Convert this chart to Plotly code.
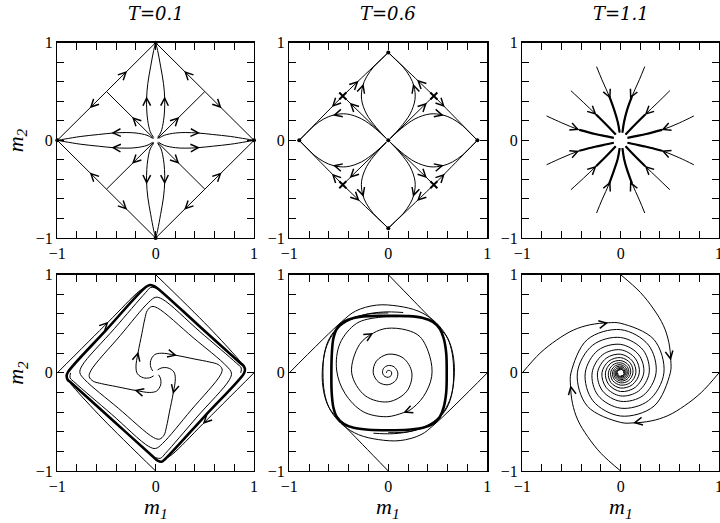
import plotly.graph_objects as go

# ---------------- data ----------------
TICK_VALUES = [-1, -0.8, -0.6, -0.4, -0.2, 0, 0.2, 0.4, 0.6, 0.8, 1]
TICK_LABELS = ["\u22121", "", "", "", "", "0", "", "", "", "", "1"]
COLUMN_TITLES = ["T=0.1", "T=0.6", "T=1.1"]

# Panel 1 (T=0.1, top)
P1_EDGES = [
    [(-0.5, 0.5), (0, 1)], [(-0.5, 0.5), (-1, 0)],
    [(0.5, 0.5), (0, 1)], [(0.5, 0.5), (1, 0)],
    [(-0.5, -0.5), (-1, 0)], [(-0.5, -0.5), (0, -1)],
    [(0.5, -0.5), (1, 0)], [(0.5, -0.5), (0, -1)],
]
P1_DIAGONALS = [
    [(-0.02, 0.02), (-0.5, 0.5)], [(0.02, 0.02), (0.5, 0.5)],
    [(-0.02, -0.02), (-0.5, -0.5)], [(0.02, -0.02), (0.5, -0.5)],
]
P1_LEAVES = [
    [(-0.02, 0.03), (-0.055, 0.088), (-0.08, 0.2), (-0.09, 0.3), (-0.092, 0.43), (-0.08, 0.58), (-0.05, 0.76), (-0.02, 0.92), (0, 1)],
    [(0.02, 0.03), (0.055, 0.088), (0.08, 0.2), (0.09, 0.3), (0.092, 0.43), (0.08, 0.58), (0.05, 0.76), (0.02, 0.92), (0, 1)],
    [(-0.02, -0.03), (-0.055, -0.088), (-0.08, -0.2), (-0.09, -0.3), (-0.092, -0.43), (-0.08, -0.58), (-0.05, -0.76), (-0.02, -0.92), (0, -1)],
    [(0.02, -0.03), (0.055, -0.088), (0.08, -0.2), (0.09, -0.3), (0.092, -0.43), (0.08, -0.58), (0.05, -0.76), (0.02, -0.92), (0, -1)],
    [(-0.03, 0.02), (-0.088, 0.052), (-0.2, 0.075), (-0.3, 0.08), (-0.43, 0.075), (-0.58, 0.06), (-0.76, 0.04), (-0.92, 0.014), (-1, 0)],
    [(-0.03, -0.02), (-0.088, -0.052), (-0.2, -0.075), (-0.3, -0.08), (-0.43, -0.075), (-0.58, -0.06), (-0.76, -0.04), (-0.92, -0.014), (-1, 0)],
    [(0.03, 0.02), (0.088, 0.052), (0.2, 0.075), (0.3, 0.08), (0.43, 0.075), (0.58, 0.06), (0.76, 0.04), (0.92, 0.014), (1, 0)],
    [(0.03, -0.02), (0.088, -0.052), (0.2, -0.075), (0.3, -0.08), (0.43, -0.075), (0.58, -0.06), (0.76, -0.04), (0.92, -0.014), (1, 0)],
]
P1_FIXED_POINTS = [(0, 1), (1, 0), (0, -1), (-1, 0)]
# arrows: (tip x, tip y, tail x, tail y)
P1_ARROWS = [
    (-0.29, 0.71, -0.33, 0.67), (-0.67, 0.33, -0.63, 0.37),
    (0.29, 0.71, 0.33, 0.67), (0.67, 0.33, 0.63, 0.37),
    (-0.67, -0.33, -0.63, -0.37), (-0.29, -0.71, -0.33, -0.67),
    (0.67, -0.33, 0.63, -0.37), (0.29, -0.71, 0.33, -0.67),
    (-0.24, 0.24, -0.2, 0.2), (0.24, 0.24, 0.2, 0.2),
    (-0.24, -0.24, -0.2, -0.2), (0.24, -0.24, 0.2, -0.2),
    (-0.092, 0.45, -0.091, 0.40), (0.092, 0.45, 0.091, 0.40),
    (-0.092, -0.45, -0.091, -0.40), (0.092, -0.45, 0.091, -0.40),
    (-0.45, 0.074, -0.40, 0.077), (-0.45, -0.074, -0.40, -0.077),
    (0.45, 0.074, 0.40, 0.077), (0.45, -0.074, 0.40, -0.077),
]

# Panel 2 (T=0.6, top)
P2_EDGES = [
    [(-0.46, 0.455), (-0.23, 0.678), (0, 0.9)], [(-0.46, 0.455), (-0.68, 0.228), (-0.9, 0)],
    [(0.46, 0.455), (0.23, 0.678), (0, 0.9)], [(0.46, 0.455), (0.68, 0.228), (0.9, 0)],
    [(-0.46, -0.455), (-0.68, -0.228), (-0.9, 0)], [(-0.46, -0.455), (-0.23, -0.678), (0, -0.9)],
    [(0.46, -0.455), (0.68, -0.228), (0.9, 0)], [(0.46, -0.455), (0.23, -0.678), (0, -0.9)],
]
P2_DIAGONALS = [
    [(-0.02, 0.02), (-0.46, 0.455)], [(0.02, 0.02), (0.46, 0.455)],
    [(-0.02, -0.02), (-0.46, -0.455)], [(0.02, -0.02), (0.46, -0.455)],
]
P2_CURVES = [
    [(-0.02, 0.02), (-0.12, 0.13), (-0.22, 0.27), (-0.27, 0.42), (-0.26, 0.55), (-0.22, 0.65), (-0.15, 0.75), (-0.07, 0.83), (0, 0.9)],
    [(-0.02, 0.02), (-0.13, 0.12), (-0.27, 0.22), (-0.42, 0.27), (-0.55, 0.26), (-0.65, 0.22), (-0.75, 0.15), (-0.83, 0.07), (-0.9, 0)],
    [(0.02, 0.02), (0.12, 0.13), (0.22, 0.27), (0.27, 0.42), (0.26, 0.55), (0.22, 0.65), (0.15, 0.75), (0.07, 0.83), (0, 0.9)],
    [(0.02, 0.02), (0.13, 0.12), (0.27, 0.22), (0.42, 0.27), (0.55, 0.26), (0.65, 0.22), (0.75, 0.15), (0.83, 0.07), (0.9, 0)],
    [(-0.02, -0.02), (-0.12, -0.13), (-0.22, -0.27), (-0.27, -0.42), (-0.26, -0.55), (-0.22, -0.65), (-0.15, -0.75), (-0.07, -0.83), (0, -0.9)],
    [(-0.02, -0.02), (-0.13, -0.12), (-0.27, -0.22), (-0.42, -0.27), (-0.55, -0.26), (-0.65, -0.22), (-0.75, -0.15), (-0.83, -0.07), (-0.9, 0)],
    [(0.02, -0.02), (0.12, -0.13), (0.22, -0.27), (0.27, -0.42), (0.26, -0.55), (0.22, -0.65), (0.15, -0.75), (0.07, -0.83), (0, -0.9)],
    [(0.02, -0.02), (0.13, -0.12), (0.27, -0.22), (0.42, -0.27), (0.55, -0.26), (0.65, -0.22), (0.75, -0.15), (0.83, -0.07), (0.9, 0)],
]
P2_SADDLES = [(-0.46, 0.455), (0.46, 0.455), (-0.46, -0.455), (0.46, -0.455)]
P2_FIXED_POINTS = [(0, 0.9), (0.9, 0), (0, -0.9), (-0.9, 0), (0, 0)]
P2_ARROWS = [
    (-0.30, 0.61, -0.34, 0.571), (-0.57, 0.341, -0.53, 0.383),
    (0.29, 0.62, 0.33, 0.581), (0.57, 0.341, 0.53, 0.383),
    (-0.57, -0.341, -0.53, -0.383), (-0.29, -0.62, -0.33, -0.581),
    (0.57, -0.341, 0.53, -0.383), (0.29, -0.62, 0.33, -0.581),
    (-0.39, 0.386, -0.35, 0.346), (0.39, 0.386, 0.35, 0.346),
    (-0.39, -0.386, -0.35, -0.346), (0.39, -0.386, 0.35, -0.346),
    (-0.25, 0.58, -0.265, 0.53), (0.25, 0.58, 0.265, 0.53),
    (-0.25, -0.58, -0.265, -0.53), (0.25, -0.58, 0.265, -0.53),
    (-0.56, 0.255, -0.51, 0.268), (0.56, 0.255, 0.51, 0.268),
    (-0.56, -0.255, -0.51, -0.268), (0.56, -0.255, 0.51, -0.268),
]

# Panel 3 (T=1.1, top)
P3_PATHS = [
    [(-0.245, 0.755), (-0.19, 0.62), (-0.115, 0.45), (-0.065, 0.31), (-0.03, 0.19), (-0.01, 0.08)],
    [(0.245, 0.755), (0.19, 0.62), (0.115, 0.45), (0.065, 0.31), (0.035, 0.19), (0.018, 0.08)],
    [(-0.506, 0.509), (-0.38, 0.39), (-0.25, 0.265), (-0.14, 0.155), (-0.05, 0.06)],
    [(0.50, 0.509), (0.38, 0.39), (0.25, 0.265), (0.14, 0.155), (0.05, 0.06)],
    [(-0.753, 0.25), (-0.6, 0.18), (-0.42, 0.107), (-0.26, 0.065), (-0.14, 0.04), (-0.07, 0.025)],
    [(0.744, 0.25), (0.6, 0.18), (0.42, 0.107), (0.26, 0.065), (0.14, 0.04), (0.07, 0.025)],
    [(-0.753, -0.25), (-0.6, -0.18), (-0.42, -0.107), (-0.26, -0.065), (-0.14, -0.04), (-0.07, -0.025)],
    [(0.744, -0.25), (0.6, -0.18), (0.42, -0.107), (0.26, -0.065), (0.14, -0.04), (0.07, -0.025)],
    [(-0.506, -0.506), (-0.38, -0.39), (-0.25, -0.265), (-0.14, -0.155), (-0.05, -0.06)],
    [(0.50, -0.506), (0.38, -0.39), (0.25, -0.265), (0.14, -0.155), (0.05, -0.06)],
    [(-0.245, -0.744), (-0.19, -0.61), (-0.115, -0.44), (-0.065, -0.30), (-0.03, -0.19), (-0.01, -0.08)],
    [(0.245, -0.744), (0.19, -0.61), (0.115, -0.44), (0.065, -0.30), (0.035, -0.19), (0.018, -0.08)],
]
P3_ARROWS = [
    (-0.103, 0.425, -0.125, 0.475), (0.095, 0.425, 0.118, 0.475),
    (-0.245, 0.26, -0.285, 0.298), (0.245, 0.26, 0.285, 0.298),
    (-0.42, 0.107, -0.47, 0.127), (0.415, 0.105, 0.465, 0.125),
    (-0.42, -0.107, -0.47, -0.127), (0.415, -0.105, 0.465, -0.125),
    (-0.245, -0.26, -0.285, -0.298), (0.245, -0.26, 0.285, -0.298),
    (-0.103, -0.42, -0.125, -0.47), (0.095, -0.42, 0.118, -0.47),
]

# Panel 4 (T=0.1, bottom)
P4_CYCLE = [(-0.10, 0.875), (-0.058, 0.895), (-0.02, 0.885), (0.02, 0.86), (0.44, 0.48),
            (0.86, 0.10), (0.895, 0.07), (0.908, 0.03), (0.895, -0.01), (0.5, -0.44),
            (0.10, -0.875), (0.061, -0.905), (0.02, -0.895), (-0.02, -0.86), (-0.44, -0.48),
            (-0.86, -0.10), (-0.895, -0.07), (-0.905, -0.03), (-0.89, 0.01), (-0.5, 0.44),
            (-0.10, 0.875)]
P4_OUTER = [
    [(-1, 0), (-0.48, 0.52), (-0.17, 0.83), (-0.10, 0.875)],
    [(0, 1), (0.536, 0.47), (0.84, 0.14), (0.895, 0.07)],
    [(1, 0), (0.48, -0.52), (0.17, -0.83), (0.10, -0.875)],
    [(0, -1), (-0.536, -0.47), (-0.84, -0.14), (-0.895, -0.07)],
]
P4_ARMS = [
    [(-0.02, -0.03), (-0.06, -0.05), (-0.125, -0.05), (-0.185, -0.01), (-0.2, 0.06), (-0.18, 0.2),
     (-0.14, 0.4), (-0.11, 0.55), (-0.085, 0.635), (-0.04, 0.675), (0.02, 0.66), (0.38, 0.36),
     (0.72, 0.07), (0.77, 0.0), (0.75, -0.07), (0.42, -0.45), (0.1, -0.82), (0.05, -0.87), (0.0, -0.865)],
    [(-0.03, 0.02), (-0.05, 0.06), (-0.05, 0.125), (-0.01, 0.185), (0.06, 0.2), (0.2, 0.18),
     (0.4, 0.14), (0.55, 0.11), (0.635, 0.085), (0.675, 0.04), (0.66, -0.02), (0.36, -0.38),
     (0.07, -0.72), (0.0, -0.77), (-0.07, -0.75), (-0.45, -0.42), (-0.82, -0.1), (-0.87, -0.05), (-0.865, 0.0)],
    [(0.02, 0.03), (0.06, 0.05), (0.125, 0.05), (0.185, 0.01), (0.2, -0.06), (0.18, -0.2),
     (0.14, -0.4), (0.11, -0.55), (0.085, -0.635), (0.04, -0.675), (-0.02, -0.66), (-0.38, -0.36),
     (-0.72, -0.07), (-0.77, 0.0), (-0.75, 0.07), (-0.42, 0.45), (-0.1, 0.82), (-0.05, 0.87), (0.0, 0.865)],
    [(0.03, -0.02), (0.05, -0.06), (0.05, -0.125), (0.01, -0.185), (-0.06, -0.2), (-0.2, -0.18),
     (-0.4, -0.14), (-0.55, -0.11), (-0.635, -0.085), (-0.675, -0.04), (-0.66, 0.02), (-0.36, 0.38),
     (-0.07, 0.72), (0.0, 0.77), (0.07, 0.75), (0.45, 0.42), (0.82, 0.1), (0.87, 0.05), (0.865, 0.0)],
]
P4_ARROWS = [
    (-0.48, 0.52, -0.52, 0.48), (0.536, 0.47, 0.50, 0.507),
    (0.48, -0.52, 0.52, -0.48), (-0.536, -0.47, -0.50, -0.507),
    (-0.176, 0.216, -0.19, 0.16), (0.216, 0.176, 0.16, 0.19),
    (0.176, -0.216, 0.19, -0.16), (-0.216, -0.176, -0.16, -0.19),
]

# Panel 5 (T=0.6, bottom)
P5_CYCLE = [(0, 0.58), (0.2, 0.578), (0.35, 0.56), (0.45, 0.52), (0.52, 0.45), (0.56, 0.35),
            (0.585, 0.2), (0.59, 0), (0.585, -0.2), (0.56, -0.35), (0.52, -0.45), (0.45, -0.52),
            (0.35, -0.56), (0.2, -0.58), (0, -0.585), (-0.2, -0.58), (-0.35, -0.56), (-0.45, -0.52),
            (-0.52, -0.45), (-0.555, -0.35), (-0.572, -0.2), (-0.575, 0), (-0.57, 0.2), (-0.555, 0.35),
            (-0.52, 0.45), (-0.45, 0.52), (-0.35, 0.56), (-0.2, 0.578), (0, 0.58)]
P5_OUTER = [
    [(-1, 0), (-0.471, 0.521), (-0.33, 0.63), (-0.12, 0.69), (0.1, 0.68), (0.3, 0.63), (0.45, 0.54),
     (0.56, 0.42), (0.63, 0.28), (0.665, 0.1), (0.66, -0.1), (0.62, -0.28), (0.54, -0.42),
     (0.42, -0.52), (0.25, -0.59), (0.05, -0.62), (-0.15, -0.615)],
    [(0, 1), (0.26, 0.73), (0.522, 0.453), (0.6, 0.35), (0.645, 0.2), (0.66, 0.0), (0.645, -0.2),
     (0.59, -0.36), (0.5, -0.47), (0.38, -0.55), (0.2, -0.6), (0.0, -0.61)],
    [(1, 0), (0.471, -0.521), (0.33, -0.63), (0.12, -0.69), (-0.1, -0.68), (-0.3, -0.63), (-0.45, -0.54),
     (-0.56, -0.42), (-0.63, -0.28), (-0.665, -0.1), (-0.66, 0.1), (-0.62, 0.28), (-0.54, 0.42),
     (-0.42, 0.52), (-0.25, 0.59), (-0.05, 0.62), (0.15, 0.615)],
    [(0, -1), (-0.26, -0.73), (-0.522, -0.453), (-0.6, -0.35), (-0.645, -0.2), (-0.66, 0.0), (-0.645, 0.2),
     (-0.59, 0.36), (-0.5, 0.47), (-0.38, 0.55), (-0.2, 0.6), (0.0, 0.61)],
]
P5_INNER = [(-0.018, 0), (-0.015, 0.015), (0, 0.025), (0.021, 0.021), (0.034, 0), (0.028, -0.028),
            (0, -0.045), (-0.036, -0.036), (-0.058, 0), (-0.047, 0.047), (0, 0.075), (0.06, 0.06),
            (0.096, 0), (0.076, -0.076), (0, -0.121), (-0.096, -0.096), (-0.152, 0), (-0.12, 0.12),
            (0, 0.19), (0.151, 0.151), (0.238, 0), (0.187, -0.187), (0, -0.295), (-0.233, -0.233),
            (-0.37, 0), (-0.29, 0.29), (-0.152, 0.405), (-0.017, 0.453), (0.185, 0.436), (0.32, 0.368),
            (0.42, 0.165), (0.438, -0.039), (0.354, -0.243), (0.219, -0.379), (0.152, -0.406),
            (-0.017, -0.447), (-0.253, -0.396), (-0.438, -0.209), (-0.522, 0.029), (-0.488, 0.30),
            (-0.32, 0.504), (-0.1, 0.565), (0.1, 0.572)]
P5_ARROWS = [
    (-0.152, 0.405, -0.195, 0.38), (0.152, -0.406, 0.2, -0.387),
    (-0.471, 0.521, -0.507, 0.486), (0.522, 0.453, 0.487, 0.489),
    (0.471, -0.521, 0.507, -0.486), (-0.522, -0.453, -0.487, -0.489),
]

# Panel 6 (T=1.1, bottom)
P6_FROM_LEFT = [(-1, 0), (-0.82, 0.2), (-0.65, 0.335), (-0.48, 0.436), (-0.31, 0.49), (-0.127, 0.51),
                (0, 0.505), (0.339, 0.339), (0.44, 0), (0.283, -0.283), (0, -0.36), (-0.23, -0.23),
                (-0.29, 0), (-0.184, 0.184), (0, 0.235), (0.148, 0.148), (0.19, 0), (0.12, -0.12),
                (0, -0.155), (-0.099, -0.099), (-0.125, 0), (-0.08, 0.08), (0, 0.102), (0.065, 0.065),
                (0.083, 0), (0.053, -0.053), (0, -0.068), (-0.043, -0.043), (-0.055, 0), (-0.035, 0.035),
                (0, 0.045), (0.029, 0.029), (0.037, 0), (0.024, -0.024), (0, -0.031)]
P6_FROM_TOP = [(0, 1), (0.2, 0.82), (0.335, 0.65), (0.436, 0.48), (0.49, 0.31), (0.51, 0.127),
               (0.505, 0), (0.339, -0.339), (0, -0.44), (-0.283, -0.283), (-0.36, 0), (-0.23, 0.23),
               (0, 0.29), (0.184, 0.184), (0.235, 0), (0.148, -0.148), (0, -0.19), (-0.12, -0.12),
               (-0.155, 0), (-0.099, 0.099), (0, 0.125), (0.08, 0.08), (0.102, 0), (0.065, -0.065),
               (0, -0.083), (-0.053, -0.053), (-0.068, 0), (-0.043, 0.043), (0, 0.055), (0.035, 0.035),
               (0.045, 0), (0.029, -0.029), (0, -0.037), (-0.024, -0.024), (-0.031, 0)]
P6_FROM_RIGHT = [(1, 0), (0.82, -0.2), (0.65, -0.335), (0.48, -0.436), (0.31, -0.49), (0.127, -0.51),
                 (0, -0.505), (-0.339, -0.339), (-0.44, 0), (-0.283, 0.283), (0, 0.36), (0.23, 0.23),
                 (0.29, 0), (0.184, -0.184), (0, -0.235), (-0.148, -0.148), (-0.19, 0), (-0.12, 0.12),
                 (0, 0.155), (0.099, 0.099), (0.125, 0), (0.08, -0.08), (0, -0.102), (-0.065, -0.065),
                 (-0.083, 0), (-0.053, 0.053), (0, 0.068), (0.043, 0.043), (0.055, 0), (0.035, -0.035),
                 (0, -0.045), (-0.029, -0.029), (-0.037, 0), (-0.024, 0.024), (0, 0.031)]
P6_FROM_BOTTOM = [(0, -1), (-0.2, -0.82), (-0.335, -0.65), (-0.436, -0.48), (-0.49, -0.31), (-0.51, -0.127),
                  (-0.505, 0), (-0.339, 0.339), (0, 0.44), (0.283, 0.283), (0.36, 0), (0.23, -0.23),
                  (0, -0.29), (-0.184, -0.184), (-0.235, 0), (-0.148, 0.148), (0, 0.19), (0.12, 0.12),
                  (0.155, 0), (0.099, -0.099), (0, -0.125), (-0.08, -0.08), (-0.102, 0), (-0.065, 0.065),
                  (0, 0.083), (0.053, 0.053), (0.068, 0), (0.043, -0.043), (0, -0.055), (-0.035, -0.035),
                  (-0.045, 0), (-0.029, 0.029), (0, 0.037), (0.024, 0.024), (0.031, 0)]
P6_ARROWS = [
    (-0.127, 0.51, -0.18, 0.50), (0.51, 0.127, 0.50, 0.18),
    (0.127, -0.51, 0.18, -0.50), (-0.51, -0.127, -0.50, -0.18),
]

# ---------------- figure ----------------
W, H = 720, 523
COLS_PX = [(57.3, 254.0), (289.3, 487.3), (522.3, 719.0)]
ROWS_PX = [(42.7, 238.0), (274.7, 471.0)]
SERIF = "Liberation Serif"

fig = go.Figure()


def axis_names(panel):
    return ("x" if panel == 1 else f"x{panel}"), ("y" if panel == 1 else f"y{panel}")


def draw_paths(panel, paths, width=1.0):
    xr, yr = axis_names(panel)
    for pts in paths:
        fig.add_trace(go.Scatter(
            x=[p[0] for p in pts], y=[p[1] for p in pts], mode="lines",
            line=dict(color="black", width=width, shape="spline", smoothing=1.0),
            xaxis=xr, yaxis=yr, showlegend=False, hoverinfo="skip"))


def draw_points(panel, pts, symbol="circle", size=4, lw=0):
    xr, yr = axis_names(panel)
    fig.add_trace(go.Scatter(
        x=[p[0] for p in pts], y=[p[1] for p in pts], mode="markers",
        marker=dict(symbol=symbol, size=size, color="black", line=dict(color="black", width=lw)),
        xaxis=xr, yaxis=yr, showlegend=False, hoverinfo="skip", cliponaxis=False))


def draw_arrows(panel, arrows):
    xr, yr = axis_names(panel)
    for xt, yt, xa, ya in arrows:
        fig.add_annotation(x=xt, y=yt, ax=xa, ay=ya, xref=xr, yref=yr, axref=xr, ayref=yr,
                           text="", showarrow=True, arrowhead=5, arrowsize=1.5,
                           arrowwidth=1, arrowcolor="black", standoff=0)


# panel 1
draw_paths(1, P1_EDGES)
draw_paths(1, P1_DIAGONALS)
draw_paths(1, P1_LEAVES)
draw_points(1, P1_FIXED_POINTS, size=4)
draw_arrows(1, P1_ARROWS)
# panel 2
draw_paths(2, P2_EDGES)
draw_paths(2, P2_DIAGONALS)
draw_paths(2, P2_CURVES)
draw_points(2, P2_FIXED_POINTS, size=4)
draw_points(2, P2_SADDLES, symbol="x-thin", size=7, lw=2.0)
draw_arrows(2, P2_ARROWS)
# panel 3
draw_paths(3, P3_PATHS)
draw_paths(3, [p[2:] for p in P3_PATHS], width=2.2)
draw_arrows(3, P3_ARROWS)
# panel 4
draw_paths(4, P4_OUTER)
draw_paths(4, P4_ARMS)
draw_paths(4, [P4_CYCLE], width=2.6)
draw_arrows(4, P4_ARROWS)
# panel 5
draw_paths(5, P5_OUTER)
draw_paths(5, [P5_INNER])
draw_paths(5, [P5_CYCLE], width=2.6)
draw_arrows(5, P5_ARROWS)
# panel 6
draw_paths(6, [P6_FROM_LEFT, P6_FROM_TOP, P6_FROM_RIGHT, P6_FROM_BOTTOM])
draw_arrows(6, P6_ARROWS)

axis_common = dict(
    range=[-1, 1], showgrid=False, zeroline=False, showline=True, linecolor="black",
    linewidth=1.3, mirror="ticks", ticks="inside", ticklen=7, tickwidth=1, tickcolor="black",
    tickmode="array", tickvals=TICK_VALUES, ticktext=TICK_LABELS, automargin=False,
    tickfont=dict(family=SERIF, size=16, color="black"), fixedrange=True,
    ticklabeloverflow="allow",
)

layout_axes = {}
for i in range(6):
    panel = i + 1
    r, c = divmod(i, 3)
    x0, x1 = COLS_PX[c]
    y0, y1 = ROWS_PX[r]
    xk = "xaxis" if panel == 1 else f"xaxis{panel}"
    yk = "yaxis" if panel == 1 else f"yaxis{panel}"
    xr, yr = axis_names(panel)
    layout_axes[xk] = dict(axis_common, domain=[x0 / W, x1 / W], anchor=yr)
    layout_axes[yk] = dict(axis_common, domain=[1 - y1 / H, 1 - y0 / H], anchor=xr)

fig.update_layout(
    width=W, height=H, margin=dict(l=0, r=0, t=0, b=0, pad=0, autoexpand=False),
    paper_bgcolor="white", plot_bgcolor="white", showlegend=False, **layout_axes)

# column titles
for c, title in enumerate(COLUMN_TITLES):
    xc = (COLS_PX[c][0] + COLS_PX[c][1]) / 2 / W
    fig.add_annotation(x=xc, y=1 - 14 / H, xref="paper", yref="paper", text=f"<i>{title}</i>",
                       showarrow=False, font=dict(family="DejaVu Serif", size=18, color="black"),
                       xanchor="center", yanchor="middle")
# y labels
for r in range(2):
    yc = 1 - (ROWS_PX[r][0] + ROWS_PX[r][1]) / 2 / H
    fig.add_annotation(x=17 / W, y=yc, xref="paper", yref="paper",
                       text="<i>m</i><sub><i>2</i></sub>", textangle=-90, showarrow=False,
                       font=dict(family=SERIF, size=22, color="black"),
                       xanchor="center", yanchor="middle")
# x labels
for c in range(3):
    xc = (COLS_PX[c][0] + COLS_PX[c][1]) / 2 / W
    fig.add_annotation(x=xc, y=1 - 508 / H, xref="paper", yref="paper",
                       text="<i>m</i><sub><i>1</i></sub>", showarrow=False,
                       font=dict(family=SERIF, size=22, color="black"),
                       xanchor="center", yanchor="middle")

fig.write_html("out.html", config={"displayModeBar": False, "staticPlot": True},
               post_script="document.body.style.margin='0';document.body.style.overflow='hidden';")
